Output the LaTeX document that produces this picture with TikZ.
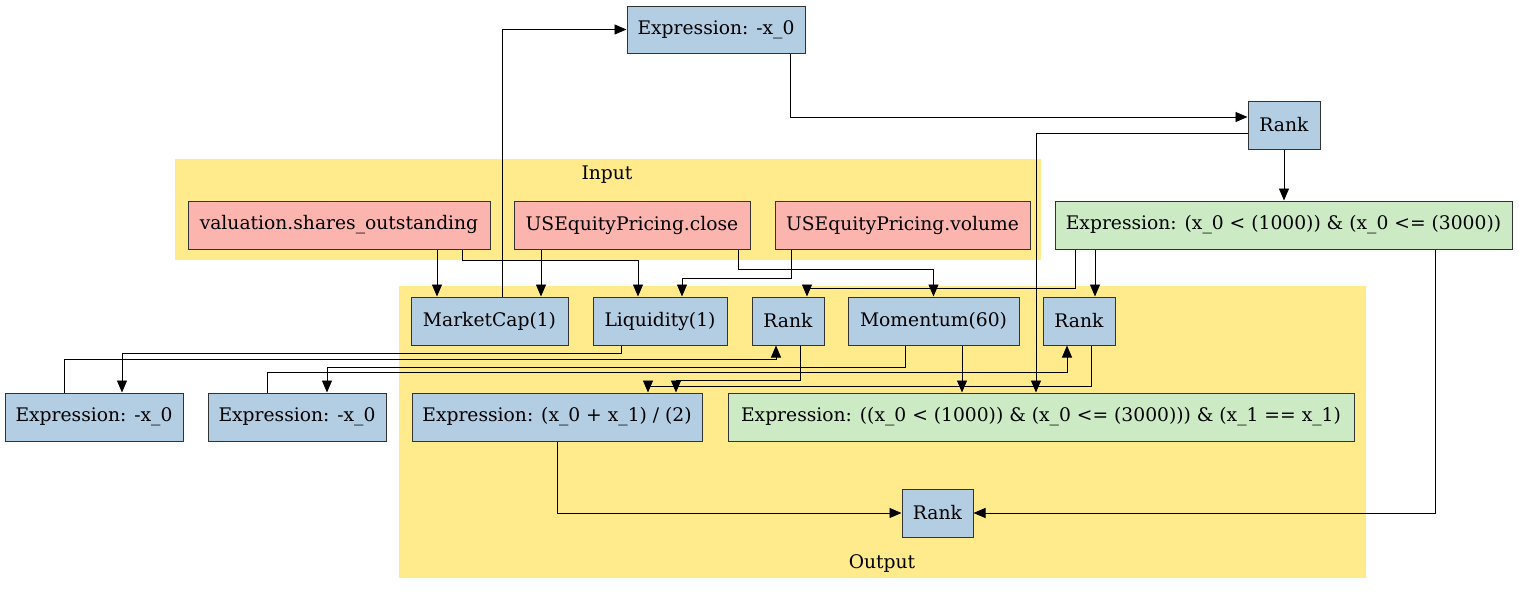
\documentclass[tikz,border=0pt]{standalone}
\usepackage{fontspec}
\setmainfont{DejaVu Serif}
\usetikzlibrary{arrows.meta,calc}
\definecolor{nblue}{HTML}{B3CDE3}
\definecolor{nred}{HTML}{FBB4AE}
\definecolor{ngreen}{HTML}{CCEBC5}
\definecolor{cyellow}{HTML}{FFEB8B}
\definecolor{bord}{HTML}{333333}
\tikzset{
  box/.style={draw=bord,line width=1pt,minimum height=48,inner sep=0pt,font=\fontsize{18.7}{22}\selectfont},
  bluebox/.style={box,fill=nblue},
  redbox/.style={box,fill=nred},
  greenbox/.style={box,fill=ngreen},
  arr/.style={draw=black,line width=0.9pt,-{Triangle[length=12pt,width=10pt]}},
  clabel/.style={font=\fontsize{18.7}{22}\selectfont,inner sep=0pt}
}
\begin{document}
\begin{tikzpicture}[x=1pt,y=-1pt]
\useasboundingbox (0,0) rectangle (1519,595);
% clusters
\fill[cyellow] (175,159) rectangle (1041,260);
\node[clabel] (inlab) at (607,175) {Input};
\fill[cyellow] (399,286) rectangle (1366,578);
\node[clabel] (outlab) at (882,563) {Output};
% nodes
\node[bluebox,minimum width=178,minimum height=47] (e0) at (716,29.5) {Expression: -x\_0};
\node[bluebox,minimum width=72] (rt) at (1284,125) {Rank};
\node[greenbox,minimum width=457] (g1) at (1283.5,225) {Expression: (x\_0 < (1000)) \& (x\_0 <= (3000))};
\node[redbox,minimum width=302] (vso) at (339,225) {valuation.shares\_outstanding};
\node[redbox,minimum width=236] (close) at (632,225) {USEquityPricing.close};
\node[redbox,minimum width=255] (vol) at (902.5,225) {USEquityPricing.volume};
\node[bluebox,minimum width=157] (mc) at (489.5,321) {MarketCap(1)};
\node[bluebox,minimum width=134] (liq) at (660,321) {Liquidity(1)};
\node[bluebox,minimum width=72] (r1) at (788,321) {Rank};
\node[bluebox,minimum width=171] (mom) at (933.5,321) {Momentum(60)};
\node[bluebox,minimum width=72] (r2) at (1079,321) {Rank};
\node[bluebox,minimum width=178] (el1) at (94,417) {Expression: -x\_0};
\node[bluebox,minimum width=178] (el2) at (297,417) {Expression: -x\_0};
\node[bluebox,minimum width=290] (avg) at (557,417) {Expression: (x\_0 + x\_1) / (2)};
\node[greenbox,minimum width=626] (g2) at (1041,417) {Expression: ((x\_0 < (1000)) \& (x\_0 <= (3000))) \& (x\_1 == x\_1)};
\node[bluebox,minimum width=71] (rb) at (937.5,513) {Rank};
% edges
\draw[arr] ([xshift=12.5]mc.north) |- (e0.west);
\draw[arr] ([xshift=74]e0.south) |- ([yshift=8]rt.west);
\draw[arr] (rt.south) -- (rt.south |- g1.north);
\draw[arr] ([yshift=-8]rt.west) -| ([xshift=-5]g2.north);
\draw[arr] ([xshift=16]r2.north |- g1.south) -- ([xshift=16]r2.north);
\draw[arr] ([xshift=-208.5]g1.south) -- ++(0,38.5) -| ([xshift=19]r1.north);
\draw[arr] ([xshift=151.5]g1.south) |- (rb.east);
\draw[arr] ([xshift=98]vso.south) -- ([xshift=-52.5]mc.north);
\draw[arr] ([xshift=123]vso.south) -- ++(0,11) -| ([xshift=-22]liq.north);
\draw[arr] ([xshift=-91]close.south) -- ([xshift=51.5]mc.north);
\draw[arr] ([xshift=106]close.south) -- ++(0,20) -| (mom.north);
\draw[arr] ([xshift=-111.5]vol.south) -- ++(0,29) -| ([xshift=22]liq.north);
\draw[arr] ([xshift=28.5]mom.south) -- ([xshift=28.5]mom.south |- g2.north);
\draw[arr] ([xshift=-28.5]mom.south) -- ++(0,21.5) -| ([xshift=30]el2.north);
\draw[arr] ([xshift=12]r1.south) -- ++(0,35) -| ([xshift=119]avg.north);
\draw[arr] ([xshift=-39]liq.south) -- ++(0,7.5) -| ([xshift=28]el1.north);
\draw[arr] ([xshift=-30]el1.north) -- ++(0,-33.5) -| ([xshift=-12]r1.south);
\draw[arr] ([xshift=-30]el2.north) -- ++(0,-20) -| ([xshift=-12]r2.south);
\draw[arr] ([xshift=12]r2.south) -- ++(0,41) -| ([xshift=91]avg.north);
\draw[arr] (avg.south) |- (rb.west);
\end{tikzpicture}
\end{document}
